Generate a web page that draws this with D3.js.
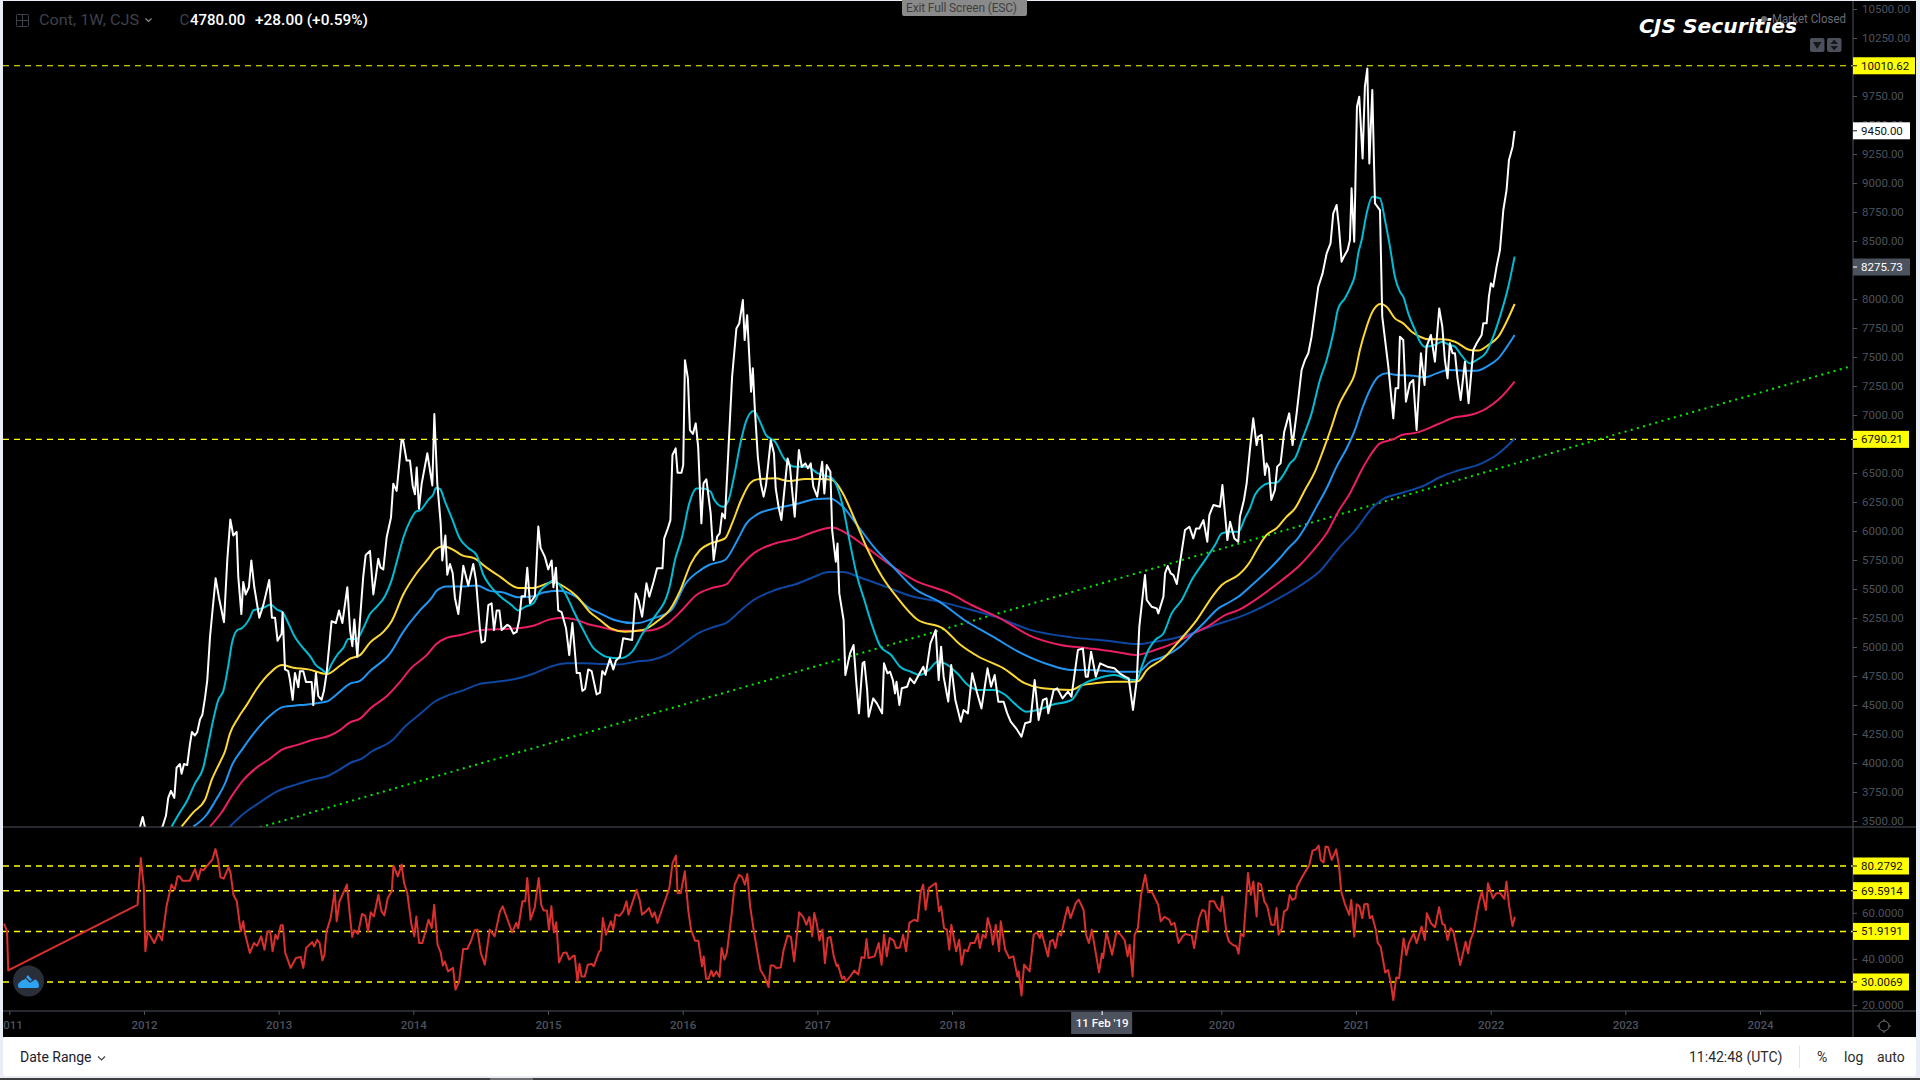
<!DOCTYPE html>
<html>
<head>
<meta charset="utf-8">
<script src="https://cdn.jsdelivr.net/npm/d3@7"></script>
<style>
  html, body { margin: 0; padding: 0; background: #e9edf5; overflow: hidden; }
  svg { display: block; }
</style>
</head>
<body>
<script>
// [year, value] pairs
const closeSeries = [[2011.970,3446],[2011.990,3535],[2012.007,3446],[2012.044,3360],[2012.138,3452],[2012.163,3545],[2012.180,3699],[2012.200,3760],[2012.225,3699],[2012.242,3960],[2012.267,3991],[2012.279,3908],[2012.297,3991],[2012.321,3982],[2012.341,4160],[2012.356,4268],[2012.378,4237],[2012.396,4268],[2012.416,4376],[2012.433,4413],[2012.453,4561],[2012.470,4715],[2012.490,5084],[2012.510,5330],[2012.532,5592],[2012.557,5423],[2012.594,5213],[2012.619,5761],[2012.641,6100],[2012.663,5961],[2012.688,5992],[2012.700,5607],[2012.723,5284],[2012.737,5561],[2012.755,5453],[2012.779,5515],[2012.797,5746],[2012.819,5515],[2012.856,5253],[2012.886,5361],[2012.930,5577],[2012.950,5253],[2012.973,5253],[2012.992,5053],[2013.022,5115],[2013.029,5300],[2013.047,4807],[2013.071,4792],[2013.084,4715],[2013.104,4545],[2013.121,4776],[2013.146,4653],[2013.158,4792],[2013.183,4792],[2013.203,4699],[2013.245,4699],[2013.257,4499],[2013.277,4776],[2013.294,4576],[2013.319,4545],[2013.336,4622],[2013.356,4776],[2013.393,5223],[2013.425,5207],[2013.448,5315],[2013.473,5207],[2013.510,5515],[2013.530,5146],[2013.547,5007],[2013.562,5238],[2013.584,4915],[2013.604,5238],[2013.628,5607],[2013.646,5792],[2013.678,5829],[2013.703,5453],[2013.740,5761],[2013.757,5684],[2013.777,5669],[2013.802,5946],[2013.834,6115],[2013.851,6408],[2013.876,6346],[2013.913,6787],[2013.925,6777],[2013.950,6608],[2013.975,6608],[2013.995,6393],[2014.012,6316],[2014.025,6547],[2014.042,6192],[2014.062,6408],[2014.104,6670],[2014.141,6393],[2014.156,7008],[2014.178,6408],[2014.203,6069],[2014.215,5746],[2014.238,5961],[2014.252,5623],[2014.272,5715],[2014.292,5638],[2014.309,5423],[2014.334,5284],[2014.371,5700],[2014.408,5530],[2014.445,5715],[2014.465,5577],[2014.495,5146],[2014.507,5038],[2014.532,5053],[2014.557,5361],[2014.581,5377],[2014.599,5146],[2014.619,5315],[2014.639,5315],[2014.656,5146],[2014.698,5192],[2014.718,5176],[2014.743,5115],[2014.767,5130],[2014.787,5238],[2014.804,5438],[2014.829,5438],[2014.846,5684],[2014.866,5377],[2014.903,5438],[2014.928,6039],[2014.945,5854],[2014.977,5777],[2015.002,5669],[2015.027,5746],[2015.040,5515],[2015.059,5684],[2015.076,5315],[2015.101,5300],[2015.134,5161],[2015.158,4930],[2015.181,5207],[2015.213,4776],[2015.237,4776],[2015.255,4622],[2015.275,4638],[2015.299,4807],[2015.324,4792],[2015.361,4591],[2015.386,4607],[2015.403,4792],[2015.423,4761],[2015.460,4899],[2015.485,4807],[2015.505,4884],[2015.534,4915],[2015.558,5075],[2015.625,5060],[2015.651,5462],[2015.672,5405],[2015.699,5261],[2015.731,5549],[2015.752,5434],[2015.784,5563],[2015.810,5678],[2015.850,5678],[2015.863,5936],[2015.890,6023],[2015.909,6094],[2015.924,6655],[2015.948,6712],[2015.962,6502],[2015.991,6502],[2016.004,6568],[2016.017,7473],[2016.039,7315],[2016.054,6870],[2016.076,6836],[2016.097,6928],[2016.115,6726],[2016.139,6066],[2016.155,6410],[2016.176,6445],[2016.208,6152],[2016.230,5750],[2016.256,5951],[2016.275,5980],[2016.293,6152],[2016.314,6109],[2016.341,6726],[2016.367,7330],[2016.399,7746],[2016.420,7789],[2016.447,7991],[2016.460,7646],[2016.479,7861],[2016.508,7201],[2016.521,7402],[2016.535,7071],[2016.558,6640],[2016.580,6410],[2016.601,6296],[2016.619,6396],[2016.654,6784],[2016.678,6669],[2016.691,6367],[2016.712,6209],[2016.733,6094],[2016.779,6626],[2016.797,6554],[2016.810,6382],[2016.832,6123],[2016.863,6698],[2016.885,6554],[2016.911,6583],[2016.930,6540],[2016.951,6583],[2016.970,6382],[2016.999,6296],[2017.036,6597],[2017.052,6324],[2017.070,6568],[2017.097,6511],[2017.110,6008],[2017.137,5735],[2017.150,5893],[2017.163,5462],[2017.195,5233],[2017.208,4758],[2017.243,4945],[2017.269,5017],[2017.290,4687],[2017.309,4428],[2017.336,4859],[2017.349,4873],[2017.370,4629],[2017.381,4399],[2017.415,4557],[2017.442,4514],[2017.481,4428],[2017.495,4859],[2017.521,4773],[2017.540,4787],[2017.561,4715],[2017.577,4600],[2017.588,4701],[2017.609,4500],[2017.627,4644],[2017.667,4658],[2017.688,4730],[2017.720,4687],[2017.760,4773],[2017.787,4830],[2017.805,4758],[2017.840,5031],[2017.879,5146],[2017.901,4715],[2017.919,5003],[2017.938,4744],[2017.972,4529],[2017.994,4845],[2018.025,4543],[2018.065,4356],[2018.086,4457],[2018.118,4428],[2018.150,4773],[2018.184,4615],[2018.219,4471],[2018.264,4816],[2018.290,4658],[2018.317,4758],[2018.344,4529],[2018.383,4529],[2018.410,4428],[2018.436,4356],[2018.476,4299],[2018.516,4227],[2018.543,4342],[2018.582,4356],[2018.614,4715],[2018.643,4371],[2018.675,4543],[2018.702,4557],[2018.715,4428],[2018.755,4629],[2018.781,4644],[2018.821,4557],[2018.861,4615],[2018.887,4572],[2018.935,4974],[2018.972,4988],[2018.993,4744],[2019.009,4744],[2019.033,4960],[2019.068,4744],[2019.100,4859],[2019.153,4830],[2019.206,4816],[2019.245,4773],[2019.285,4744],[2019.312,4730],[2019.344,4457],[2019.372,4715],[2019.391,5175],[2019.433,5620],[2019.446,5405],[2019.483,5347],[2019.520,5333],[2019.532,5290],[2019.570,5433],[2019.582,5635],[2019.602,5698],[2019.624,5635],[2019.644,5620],[2019.669,5543],[2019.730,6008],[2019.763,6037],[2019.792,5936],[2019.812,6022],[2019.837,6022],[2019.867,6094],[2019.896,5907],[2019.911,6137],[2019.941,6224],[2019.990,6209],[2020.008,6396],[2020.045,5922],[2020.065,6080],[2020.097,5936],[2020.126,5907],[2020.138,6124],[2020.168,6267],[2020.188,6411],[2020.212,6698],[2020.237,6971],[2020.262,6741],[2020.274,6813],[2020.299,6828],[2020.324,6483],[2020.336,6583],[2020.353,6540],[2020.371,6267],[2020.398,6354],[2020.415,6555],[2020.440,6583],[2020.467,6856],[2020.504,7014],[2020.529,6741],[2020.559,7014],[2020.596,7388],[2020.621,7474],[2020.646,7532],[2020.670,7675],[2020.690,7848],[2020.720,8106],[2020.752,8221],[2020.782,8393],[2020.811,8480],[2020.831,8738],[2020.856,8810],[2020.873,8623],[2020.893,8322],[2020.910,8365],[2020.938,8422],[2020.955,8508],[2020.967,8954],[2020.987,8494],[2021.007,9658],[2021.024,9744],[2021.049,9212],[2021.066,9830],[2021.084,9988],[2021.099,9169],[2021.121,9801],[2021.141,8824],[2021.178,8767],[2021.195,7848],[2021.240,7417],[2021.277,6971],[2021.294,7230],[2021.314,7230],[2021.326,7675],[2021.351,7647],[2021.371,7115],[2021.400,7273],[2021.425,7302],[2021.450,6871],[2021.482,7532],[2021.509,7259],[2021.524,7589],[2021.556,7690],[2021.586,7460],[2021.618,7919],[2021.641,7761],[2021.660,7474],[2021.680,7316],[2021.697,7618],[2021.717,7532],[2021.735,7532],[2021.754,7316],[2021.777,7129],[2021.809,7460],[2021.836,7101],[2021.871,7560],[2021.896,7618],[2021.933,7690],[2021.945,7790],[2021.970,7790],[2021.987,8020],[2022.002,8135],[2022.019,8106],[2022.044,8279],[2022.069,8422],[2022.094,8767],[2022.118,8939],[2022.136,9198],[2022.163,9313],[2022.178,9450]];

const cyanSeries = [[2012.205,3452],[2012.267,3575],[2012.317,3668],[2012.378,3822],[2012.440,3960],[2012.477,4160],[2012.515,4376],[2012.552,4545],[2012.589,4622],[2012.626,4838],[2012.651,5022],[2012.693,5146],[2012.725,5161],[2012.787,5253],[2012.812,5315],[2012.886,5337],[2012.940,5367],[2012.985,5324],[2013.029,5300],[2013.071,5207],[2013.114,5099],[2013.170,5007],[2013.237,4915],[2013.270,4853],[2013.319,4807],[2013.356,4776],[2013.393,4853],[2013.443,4945],[2013.480,4992],[2013.517,5069],[2013.579,5069],[2013.628,5161],[2013.678,5284],[2013.727,5346],[2013.789,5438],[2013.839,5577],[2013.876,5731],[2013.931,5961],[2013.975,6085],[2014.020,6168],[2014.049,6177],[2014.111,6269],[2014.148,6316],[2014.168,6371],[2014.198,6362],[2014.235,6254],[2014.284,6115],[2014.347,5931],[2014.408,5854],[2014.470,5792],[2014.520,5623],[2014.569,5530],[2014.644,5438],[2014.730,5361],[2014.780,5315],[2014.829,5346],[2014.891,5377],[2014.941,5484],[2015.002,5546],[2015.040,5577],[2015.076,5546],[2015.139,5438],[2015.188,5315],[2015.262,5146],[2015.336,4992],[2015.386,4945],[2015.435,4915],[2015.532,4902],[2015.625,4960],[2015.704,5118],[2015.784,5247],[2015.903,5520],[2015.943,5750],[2015.996,5951],[2016.049,6238],[2016.102,6367],[2016.155,6367],[2016.208,6339],[2016.235,6267],[2016.301,6209],[2016.341,6267],[2016.381,6468],[2016.434,6784],[2016.474,6956],[2016.527,7034],[2016.580,6928],[2016.619,6827],[2016.686,6770],[2016.752,6626],[2016.832,6554],[2016.924,6554],[2017.004,6497],[2017.110,6454],[2017.190,6209],[2017.243,5893],[2017.296,5606],[2017.349,5405],[2017.402,5204],[2017.469,5003],[2017.548,4931],[2017.614,4830],[2017.694,4787],[2017.760,4758],[2017.826,4801],[2017.893,4873],[2017.946,4859],[2018.039,4773],[2018.118,4672],[2018.198,4629],[2018.303,4629],[2018.397,4586],[2018.463,4514],[2018.556,4442],[2018.635,4457],[2018.741,4500],[2018.887,4543],[2018.967,4672],[2019.086,4730],[2019.206,4758],[2019.312,4721],[2019.372,4715],[2019.409,4830],[2019.458,4974],[2019.508,5060],[2019.570,5117],[2019.631,5290],[2019.706,5405],[2019.780,5577],[2019.879,5749],[2019.953,5879],[2020.003,5979],[2020.065,5994],[2020.126,5994],[2020.175,6110],[2020.212,6195],[2020.249,6310],[2020.299,6382],[2020.349,6411],[2020.410,6417],[2020.460,6483],[2020.510,6583],[2020.547,6627],[2020.608,6813],[2020.670,7014],[2020.732,7302],[2020.782,7474],[2020.831,7704],[2020.868,7919],[2020.918,8006],[2020.955,8092],[2020.992,8207],[2021.017,8393],[2021.042,8508],[2021.079,8738],[2021.121,8882],[2021.178,8868],[2021.215,8681],[2021.252,8451],[2021.289,8192],[2021.326,8063],[2021.351,8020],[2021.388,7876],[2021.438,7733],[2021.475,7632],[2021.512,7589],[2021.586,7603],[2021.636,7632],[2021.697,7603],[2021.735,7589],[2021.772,7532],[2021.846,7445],[2021.896,7474],[2021.970,7546],[2022.019,7675],[2022.069,7848],[2022.131,8106],[2022.178,8365]];

const yellowSeries = [[2012.279,3452],[2012.366,3575],[2012.453,3683],[2012.502,3852],[2012.564,4006],[2012.601,4099],[2012.638,4253],[2012.700,4391],[2012.762,4499],[2012.836,4638],[2012.935,4776],[2013.022,4844],[2013.109,4822],[2013.220,4807],[2013.356,4767],[2013.455,4838],[2013.530,4899],[2013.604,4930],[2013.678,5038],[2013.777,5130],[2013.839,5223],[2013.925,5453],[2014.025,5638],[2014.111,5761],[2014.161,5838],[2014.223,5869],[2014.297,5838],[2014.359,5792],[2014.458,5761],[2014.544,5684],[2014.643,5607],[2014.780,5509],[2014.891,5509],[2015.040,5561],[2015.126,5515],[2015.213,5438],[2015.312,5300],[2015.386,5233],[2015.466,5161],[2015.572,5132],[2015.704,5146],[2015.824,5233],[2015.903,5319],[2015.983,5491],[2016.062,5721],[2016.129,5836],[2016.208,5893],[2016.314,5936],[2016.367,6066],[2016.434,6267],[2016.500,6410],[2016.553,6445],[2016.686,6454],[2016.792,6431],[2016.911,6448],[2017.031,6448],[2017.110,6439],[2017.190,6324],[2017.269,6123],[2017.375,5836],[2017.481,5606],[2017.588,5434],[2017.747,5233],[2017.932,5161],[2018.065,5017],[2018.198,4916],[2018.383,4816],[2018.543,4687],[2018.675,4644],[2018.887,4629],[2018.967,4672],[2019.060,4687],[2019.206,4701],[2019.338,4701],[2019.384,4707],[2019.446,4801],[2019.570,4902],[2019.693,5060],[2019.817,5232],[2019.941,5448],[2020.003,5534],[2020.126,5620],[2020.176,5678],[2020.213,5735],[2020.262,5836],[2020.336,5966],[2020.410,6023],[2020.485,6124],[2020.547,6195],[2020.621,6354],[2020.695,6512],[2020.757,6698],[2020.819,6899],[2020.868,7072],[2020.931,7216],[2020.992,7359],[2021.029,7560],[2021.079,7761],[2021.116,7876],[2021.183,7957],[2021.227,7934],[2021.289,7833],[2021.351,7790],[2021.413,7718],[2021.475,7675],[2021.537,7652],[2021.636,7652],[2021.735,7632],[2021.846,7560],[2021.908,7555],[2021.982,7603],[2022.057,7675],[2022.118,7804],[2022.178,7957]];

const blueSeries = [[2012.366,3452],[2012.465,3554],[2012.527,3668],[2012.601,3822],[2012.651,3976],[2012.737,4130],[2012.824,4268],[2012.935,4407],[2013.034,4484],[2013.158,4499],[2013.356,4530],[2013.430,4591],[2013.530,4684],[2013.604,4708],[2013.678,4792],[2013.827,4945],[2013.925,5130],[2014.049,5315],[2014.136,5423],[2014.173,5484],[2014.247,5521],[2014.359,5521],[2014.470,5530],[2014.569,5484],[2014.668,5469],[2014.780,5429],[2014.891,5438],[2014.965,5469],[2015.076,5484],[2015.200,5438],[2015.312,5330],[2015.386,5290],[2015.492,5233],[2015.651,5204],[2015.784,5247],[2015.916,5319],[2016.023,5549],[2016.115,5649],[2016.195,5707],[2016.314,5750],[2016.407,5922],[2016.474,6066],[2016.553,6143],[2016.686,6195],[2016.845,6232],[2016.978,6273],[2017.097,6281],[2017.190,6209],[2017.296,6051],[2017.428,5850],[2017.561,5692],[2017.720,5505],[2017.906,5391],[2018.091,5233],[2018.304,5089],[2018.516,4945],[2018.728,4845],[2018.887,4802],[2019.046,4802],[2019.206,4787],[2019.384,4787],[2019.471,4873],[2019.570,4916],[2019.693,5002],[2019.780,5103],[2019.879,5218],[2019.978,5333],[2020.065,5390],[2020.126,5433],[2020.213,5520],[2020.435,5767],[2020.497,5851],[2020.559,5923],[2020.633,6052],[2020.707,6210],[2020.782,6368],[2020.856,6555],[2020.931,6713],[2020.992,6871],[2021.042,7043],[2021.103,7216],[2021.165,7330],[2021.227,7359],[2021.302,7345],[2021.425,7339],[2021.512,7325],[2021.598,7359],[2021.685,7388],[2021.797,7382],[2021.896,7382],[2021.970,7417],[2022.057,7488],[2022.118,7583],[2022.178,7690]];

const pinkSeries = [[2012.490,3452],[2012.577,3575],[2012.651,3714],[2012.737,3852],[2012.836,3960],[2012.935,4037],[2013.022,4114],[2013.133,4154],[2013.257,4200],[2013.381,4237],[2013.455,4284],[2013.530,4351],[2013.604,4382],[2013.678,4468],[2013.802,4576],[2013.901,4699],[2013.975,4807],[2014.099,4930],[2014.173,5029],[2014.247,5078],[2014.359,5106],[2014.470,5139],[2014.594,5152],[2014.780,5161],[2014.891,5183],[2015.015,5238],[2015.101,5253],[2015.200,5238],[2015.312,5192],[2015.386,5175],[2015.519,5141],[2015.731,5141],[2015.890,5204],[2015.996,5319],[2016.102,5448],[2016.208,5505],[2016.327,5543],[2016.407,5664],[2016.527,5807],[2016.686,5893],[2016.845,5936],[2016.978,5994],[2017.110,6031],[2017.216,5980],[2017.375,5850],[2017.508,5735],[2017.720,5577],[2017.985,5462],[2018.145,5362],[2018.357,5247],[2018.595,5089],[2018.807,5017],[2019.020,4988],[2019.206,4960],[2019.365,4931],[2019.508,4974],[2019.644,5031],[2019.768,5103],[2019.916,5189],[2020.027,5275],[2020.126,5318],[2020.213,5376],[2020.435,5563],[2020.584,5707],[2020.695,5851],[2020.782,5980],[2020.868,6167],[2020.955,6325],[2021.042,6526],[2021.116,6670],[2021.178,6756],[2021.277,6790],[2021.339,6828],[2021.450,6848],[2021.611,6922],[2021.735,6980],[2021.846,7000],[2021.970,7058],[2022.069,7144],[2022.178,7287]];

const navySeries = [[2012.638,3452],[2012.737,3560],[2012.861,3662],[2012.985,3754],[2013.134,3816],[2013.232,3852],[2013.369,3890],[2013.455,3945],[2013.530,4000],[2013.616,4037],[2013.690,4099],[2013.839,4191],[2013.938,4314],[2014.049,4422],[2014.161,4530],[2014.260,4585],[2014.359,4622],[2014.483,4678],[2014.606,4699],[2014.780,4730],[2014.891,4770],[2015.040,4838],[2015.139,4859],[2015.262,4859],[2015.411,4853],[2015.519,4850],[2015.651,4873],[2015.784,4893],[2015.903,4945],[2016.009,5031],[2016.115,5118],[2016.235,5175],[2016.327,5210],[2016.420,5304],[2016.527,5405],[2016.686,5491],[2016.845,5543],[2016.978,5606],[2017.084,5646],[2017.190,5646],[2017.322,5597],[2017.508,5520],[2017.694,5439],[2017.906,5391],[2018.145,5319],[2018.357,5247],[2018.569,5152],[2018.887,5083],[2019.153,5054],[2019.384,5025],[2019.508,5046],[2019.644,5074],[2019.780,5117],[2019.916,5175],[2020.027,5218],[2020.126,5255],[2020.213,5296],[2020.435,5425],[2020.584,5528],[2020.740,5664],[2020.870,5851],[2020.996,6008],[2021.120,6198],[2021.190,6267],[2021.345,6330],[2021.497,6388],[2021.631,6468],[2021.753,6520],[2021.920,6577],[2022.054,6664],[2022.178,6795]];

const trendSeries = [[2012.861,3445],[2024.680,7422]];

const rsiSeries = [[2010.961,55.3],[2010.983,51.9],[2010.992,35.0],[2011.952,63.4],[2011.976,83.7],[2011.998,71.5],[2012.010,43.3],[2012.028,51.9],[2012.076,46.9],[2012.107,51.2],[2012.134,48.1],[2012.167,62.8],[2012.204,72.2],[2012.228,70.0],[2012.249,75.8],[2012.264,75.8],[2012.286,73.9],[2012.340,73.9],[2012.379,79.0],[2012.401,74.4],[2012.422,79.0],[2012.440,78.4],[2012.476,80.9],[2012.507,83.0],[2012.531,87.6],[2012.552,82.3],[2012.567,75.5],[2012.592,74.8],[2012.628,79.8],[2012.643,77.2],[2012.664,67.8],[2012.689,65.0],[2012.710,55.6],[2012.719,51.9],[2012.737,56.3],[2012.749,51.2],[2012.786,42.6],[2012.816,46.9],[2012.840,45.7],[2012.870,49.8],[2012.895,44.0],[2012.916,51.9],[2012.937,51.9],[2012.955,43.3],[2012.976,50.5],[2012.992,48.6],[2013.016,54.6],[2013.031,54.6],[2013.049,42.6],[2013.089,36.1],[2013.128,40.4],[2013.164,40.8],[2013.183,36.1],[2013.204,44.7],[2013.249,47.3],[2013.264,45.4],[2013.286,48.3],[2013.304,46.9],[2013.325,39.4],[2013.340,41.8],[2013.355,51.9],[2013.386,57.7],[2013.416,69.3],[2013.431,56.3],[2013.452,65.0],[2013.507,72.2],[2013.531,57.7],[2013.546,49.5],[2013.561,52.4],[2013.589,50.9],[2013.619,59.5],[2013.643,58.7],[2013.664,51.9],[2013.683,60.2],[2013.707,58.4],[2013.740,67.8],[2013.764,60.6],[2013.785,58.9],[2013.810,66.4],[2013.840,69.3],[2013.852,80.4],[2013.885,75.8],[2013.913,80.9],[2013.931,72.9],[2013.955,68.6],[2013.986,54.8],[2014.007,49.8],[2014.022,58.4],[2014.043,46.9],[2014.067,46.9],[2014.113,57.0],[2014.137,53.4],[2014.155,63.5],[2014.180,46.2],[2014.204,42.6],[2014.219,37.1],[2014.234,38.9],[2014.258,34.6],[2014.295,36.1],[2014.313,26.7],[2014.340,30.3],[2014.370,44.3],[2014.401,44.3],[2014.431,48.3],[2014.455,52.4],[2014.476,52.7],[2014.501,42.6],[2014.531,37.5],[2014.567,52.7],[2014.604,49.8],[2014.643,60.6],[2014.664,62.8],[2014.734,51.5],[2014.764,55.6],[2014.779,53.4],[2014.810,65.0],[2014.831,65.0],[2014.846,75.1],[2014.870,57.0],[2014.901,62.1],[2014.931,75.1],[2014.949,63.5],[2014.967,61.0],[2014.992,61.0],[2015.007,52.7],[2015.025,62.8],[2015.043,51.5],[2015.061,55.9],[2015.082,38.5],[2015.113,42.6],[2015.137,42.8],[2015.158,39.7],[2015.189,41.4],[2015.198,41.4],[2015.219,30.3],[2015.234,37.9],[2015.249,32.4],[2015.273,32.4],[2015.295,37.5],[2015.325,37.8],[2015.340,36.8],[2015.380,43.3],[2015.392,43.7],[2015.407,57.7],[2015.431,50.5],[2015.467,56.3],[2015.485,52.7],[2015.501,59.2],[2015.531,58.7],[2015.558,60.6],[2015.583,65.0],[2015.598,59.2],[2015.658,70.0],[2015.683,65.0],[2015.698,59.2],[2015.728,60.6],[2015.750,62.1],[2015.774,58.2],[2015.792,60.2],[2015.813,55.6],[2015.850,62.1],[2015.901,70.7],[2015.925,81.6],[2015.950,84.8],[2015.962,68.6],[2015.986,68.6],[2016.016,78.0],[2016.041,61.3],[2016.062,52.7],[2016.092,47.9],[2016.116,47.9],[2016.144,36.8],[2016.156,41.1],[2016.174,31.4],[2016.192,31.4],[2016.213,34.9],[2016.228,32.4],[2016.250,34.6],[2016.274,32.2],[2016.289,44.7],[2016.310,39.7],[2016.328,42.6],[2016.365,59.9],[2016.386,72.2],[2016.419,76.5],[2016.441,75.5],[2016.462,72.2],[2016.480,76.8],[2016.501,62.8],[2016.531,51.2],[2016.577,35.3],[2016.607,32.4],[2016.638,27.8],[2016.653,37.2],[2016.677,37.1],[2016.692,36.1],[2016.728,36.3],[2016.750,44.0],[2016.780,50.2],[2016.804,49.5],[2016.828,38.9],[2016.865,60.2],[2016.895,58.2],[2016.919,54.8],[2016.941,58.2],[2016.962,49.8],[2016.977,59.9],[2016.995,55.6],[2017.016,48.0],[2017.038,52.7],[2017.056,38.2],[2017.077,49.1],[2017.098,49.5],[2017.122,41.1],[2017.144,36.8],[2017.153,37.5],[2017.183,31.4],[2017.198,32.4],[2017.213,30.3],[2017.244,32.4],[2017.274,35.0],[2017.304,33.2],[2017.328,40.8],[2017.350,40.4],[2017.365,48.6],[2017.380,40.4],[2017.425,41.1],[2017.456,46.9],[2017.477,37.5],[2017.495,50.5],[2017.516,41.1],[2017.537,49.1],[2017.568,47.9],[2017.586,44.7],[2017.613,45.0],[2017.637,50.5],[2017.659,43.3],[2017.683,55.6],[2017.719,57.0],[2017.744,56.3],[2017.768,69.3],[2017.786,72.2],[2017.804,61.3],[2017.828,70.7],[2017.880,72.9],[2017.904,60.6],[2017.919,62.8],[2017.941,53.4],[2017.962,52.7],[2017.980,44.0],[2017.995,54.8],[2018.031,43.3],[2018.053,48.3],[2018.071,37.5],[2018.092,44.0],[2018.116,43.3],[2018.137,46.9],[2018.168,46.9],[2018.192,50.9],[2018.207,44.7],[2018.228,50.5],[2018.250,49.1],[2018.265,57.7],[2018.289,52.7],[2018.304,46.2],[2018.325,54.8],[2018.350,43.3],[2018.362,56.3],[2018.395,44.0],[2018.425,40.4],[2018.456,41.1],[2018.486,32.4],[2018.495,34.6],[2018.516,24.1],[2018.535,37.5],[2018.577,34.6],[2018.607,50.5],[2018.631,51.5],[2018.653,49.1],[2018.665,51.5],[2018.713,41.1],[2018.729,47.6],[2018.750,48.3],[2018.768,44.7],[2018.789,51.2],[2018.810,50.1],[2018.835,57.0],[2018.859,62.5],[2018.880,57.7],[2018.919,64.2],[2018.941,65.7],[2018.977,61.3],[2018.995,50.5],[2019.016,46.9],[2019.038,52.7],[2019.092,34.2],[2019.113,42.3],[2019.122,40.4],[2019.147,51.5],[2019.189,41.8],[2019.222,51.9],[2019.253,50.5],[2019.283,48.0],[2019.304,41.1],[2019.319,46.2],[2019.341,32.4],[2019.356,50.5],[2019.380,53.4],[2019.404,67.8],[2019.435,76.5],[2019.456,68.9],[2019.486,68.9],[2019.531,63.5],[2019.550,56.3],[2019.577,58.2],[2019.613,57.0],[2019.628,54.8],[2019.653,55.6],[2019.683,46.9],[2019.713,49.8],[2019.734,50.8],[2019.780,50.1],[2019.798,44.7],[2019.834,57.7],[2019.859,61.3],[2019.880,60.6],[2019.901,51.9],[2019.913,65.0],[2019.946,65.0],[2019.971,62.1],[2019.995,60.6],[2020.007,67.1],[2020.038,51.2],[2020.056,47.6],[2020.083,46.2],[2020.113,45.4],[2020.128,42.3],[2020.144,50.9],[2020.165,49.8],[2020.198,77.2],[2020.219,67.8],[2020.238,73.6],[2020.262,58.4],[2020.274,72.9],[2020.295,72.2],[2020.319,65.0],[2020.341,62.8],[2020.371,54.8],[2020.395,54.8],[2020.410,62.1],[2020.425,50.5],[2020.435,51.8],[2020.450,53.3],[2020.465,60.5],[2020.490,61.5],[2020.508,67.7],[2020.526,65.6],[2020.550,66.3],[2020.562,71.3],[2020.602,75.7],[2020.632,78.6],[2020.653,80.7],[2020.677,86.9],[2020.702,87.5],[2020.723,89.1],[2020.738,82.9],[2020.759,81.8],[2020.774,88.7],[2020.793,88.4],[2020.820,82.9],[2020.853,87.5],[2020.874,80.0],[2020.890,69.2],[2020.920,63.4],[2020.950,59.1],[2020.965,65.6],[2020.987,49.7],[2021.005,63.7],[2021.026,62.7],[2021.047,57.6],[2021.062,63.7],[2021.087,63.8],[2021.102,57.6],[2021.120,58.6],[2021.147,52.6],[2021.162,46.8],[2021.183,45.3],[2021.217,34.1],[2021.238,35.2],[2021.259,29.4],[2021.277,22.2],[2021.299,32.0],[2021.320,31.6],[2021.353,48.9],[2021.374,41.7],[2021.393,46.8],[2021.429,51.1],[2021.450,46.8],[2021.487,54.0],[2021.511,48.2],[2021.526,59.8],[2021.556,55.5],[2021.587,53.7],[2021.617,62.4],[2021.641,55.2],[2021.659,54.7],[2021.680,48.2],[2021.702,53.3],[2021.723,51.8],[2021.774,37.4],[2021.814,47.5],[2021.832,42.4],[2021.850,48.2],[2021.874,51.8],[2021.911,64.1],[2021.935,69.2],[2021.965,61.2],[2021.980,72.8],[2022.017,66.3],[2022.041,68.5],[2022.071,68.5],[2022.102,66.0],[2022.117,73.5],[2022.138,62.7],[2022.162,54.3],[2022.180,58.3]];

const priceLevels = [10010.62, 6790.21];
const rsiLevels = [80.2792, 69.5914, 51.9191, 30.0069];
// 10000, 8250, 80 and 2019 sit behind a flag in the picture, so they are left out
const priceTicks = d3.range(3500, 10501, 250).filter(d => d !== 10000 && d !== 8250);
const rsiTicks = [20, 40, 60];
const yearTicks = d3.range(2011, 2025).filter(d => d !== 2019);
const lastClose = 9450;
const lastCyan = 8275.73;
const crosshairYear = 2019.115;

function main(){
    const svg = d3.select("body").append("svg")
        .attr("width", 1920)
        .attr("height", 1080)
        .style("font-family", "Roboto, sans-serif");

    const grey = "#4c525e";
    const paneLeft = 3, paneRight = 1853, paneTop = 1, split = 827, paneBottom = 1011, axisBottom = 1037, right = 1916;

    // chart background and the white footer
    svg.append("rect").attr("x", paneLeft).attr("y", paneTop).attr("width", right - paneLeft).attr("height", axisBottom - paneTop).attr("fill", "#000");
    svg.append("rect").attr("x", paneLeft).attr("y", axisBottom).attr("width", right - paneLeft).attr("height", 39).attr("rx", 3).attr("fill", "#fff");
    svg.append("rect").attr("x", 0).attr("y", 1078).attr("width", 1920).attr("height", 2).attr("fill", "#3e3e3e");
    svg.append("rect").attr("x", 490).attr("y", 1078).attr("width", 43).attr("height", 2).attr("fill", "#6e6e6e");

    const x = d3.scaleLinear().domain([2012, 2024]).range([144, 1760]);
    const y = d3.scaleLinear().domain([3500, 10500]).range([821, 9]);
    const yRsi = d3.scaleLinear().domain([30, 80.2792]).range([982, 866]);

    const defs = svg.append("defs");
    defs.append("clipPath").attr("id", "clipMain").append("rect")
        .attr("x", paneLeft).attr("y", paneTop).attr("width", paneRight - paneLeft).attr("height", split - paneTop);
    defs.append("clipPath").attr("id", "clipRsi").append("rect")
        .attr("x", paneLeft).attr("y", split).attr("width", paneRight - paneLeft).attr("height", paneBottom - split);
    defs.append("clipPath").attr("id", "clipTime").append("rect")
        .attr("x", paneLeft).attr("y", paneBottom).attr("width", paneRight - paneLeft).attr("height", axisBottom - paneBottom);

    const mainPane = svg.append("g").attr("clip-path", "url(#clipMain)");
    const rsiPane = svg.append("g").attr("clip-path", "url(#clipRsi)");

    const priceLine = d3.line().x(d => x(d[0])).y(d => y(d[1]));
    const maLine = d3.line().x(d => x(d[0])).y(d => y(d[1])).curve(d3.curveMonotoneX);
    const rsiLine = d3.line().x(d => x(d[0])).y(d => yRsi(d[1]));

    mainPane.selectAll(".level").data(priceLevels).join("line")
        .attr("x1", paneLeft).attr("x2", paneRight)
        .attr("y1", d => y(d)).attr("y2", d => y(d))
        .attr("stroke", "#ffff00").attr("stroke-width", 1.2).attr("stroke-dasharray", "6 5");

    mainPane.append("path").datum(trendSeries)
        .attr("d", priceLine).attr("fill", "none")
        .attr("stroke", "#00f000").attr("stroke-width", 2).attr("stroke-dasharray", "2 4.4");

    const maLines = [
        [navySeries, "#0d47a1"],
        [pinkSeries, "#e91e63"],
        [blueSeries, "#2196f3"],
        [yellowSeries, "#fdd835"],
        [cyanSeries, "#00bcd4"]
    ];
    maLines.forEach(m => {
        mainPane.append("path").datum(m[0])
            .attr("d", maLine).attr("fill", "none")
            .attr("stroke", m[1]).attr("stroke-width", 2).attr("stroke-linejoin", "round");
    });
    mainPane.append("path").datum(closeSeries)
        .attr("d", priceLine).attr("fill", "none")
        .attr("stroke", "#fff").attr("stroke-width", 2).attr("stroke-linejoin", "round");

    // lower pane
    rsiPane.selectAll(".level").data(rsiLevels).join("line")
        .attr("x1", paneLeft).attr("x2", paneRight)
        .attr("y1", d => yRsi(d)).attr("y2", d => yRsi(d))
        .attr("stroke", "#ffff00").attr("stroke-width", 1.5).attr("stroke-dasharray", "6 5");
    rsiPane.append("path").datum(rsiSeries)
        .attr("d", rsiLine).attr("fill", "none")
        .attr("stroke", "#d8302f").attr("stroke-width", 2).attr("stroke-linejoin", "round");

    // axes
    const styleAxis = g => {
        g.select(".domain").remove();
        g.selectAll("line").attr("stroke", grey);
        g.selectAll("text").attr("fill", grey).style("font-size", "11.5px").style("font-family", "Roboto, sans-serif");
    };
    svg.append("g").attr("transform", "translate(" + paneRight + ",0)")
        .call(d3.axisRight(y).tickValues(priceTicks).tickSize(4).tickPadding(5).tickFormat(d3.format(".2f")))
        .call(styleAxis);
    svg.append("g").attr("transform", "translate(" + paneRight + ",0)")
        .call(d3.axisRight(yRsi).tickValues(rsiTicks).tickSize(4).tickPadding(5).tickFormat(d3.format(".4f")))
        .call(styleAxis);
    const timeAxis = svg.append("g").attr("clip-path", "url(#clipTime)").append("g")
        .attr("transform", "translate(0," + paneBottom + ")")
        .call(d3.axisBottom(x).tickValues(yearTicks).tickSize(4).tickPadding(6).tickFormat(d3.format("d")))
        .call(styleAxis);
    timeAxis.selectAll("text").style("font-weight", 500);

    svg.append("line").attr("x1", paneLeft).attr("x2", right).attr("y1", split).attr("y2", split).attr("stroke", grey).attr("stroke-width", 1);
    svg.append("line").attr("x1", paneLeft).attr("x2", right).attr("y1", paneBottom).attr("y2", paneBottom).attr("stroke", grey).attr("stroke-width", 1);
    svg.append("line").attr("x1", paneRight).attr("x2", paneRight).attr("y1", paneTop).attr("y2", axisBottom).attr("stroke", grey).attr("stroke-width", 1);

    // value flags on the price scale
    const flag = (cy, label, bg, fg, w) => {
        const g = svg.append("g");
        g.append("rect").attr("x", paneRight).attr("y", cy - 8.5).attr("width", w).attr("height", 17).attr("fill", bg);
        g.append("line").attr("x1", paneRight).attr("x2", paneRight + 4).attr("y1", cy).attr("y2", cy).attr("stroke", fg);
        g.append("text").attr("x", paneRight + 8).attr("y", cy + 4).attr("fill", fg).style("font-size", "11.5px").text(label);
    };
    priceLevels.forEach(d => flag(y(d), d3.format(".2f")(d), "#ffff00", "#111", d > 10000 ? 62 : 56));
    rsiLevels.forEach(d => flag(yRsi(d), d3.format(".4f")(d), "#ffff00", "#111", 56));
    flag(y(lastClose), d3.format(".2f")(lastClose), "#fff", "#111", 57);
    flag(y(lastCyan), d3.format(".2f")(lastCyan), grey, "#fff", 57);

    // crosshair date flag
    const cx = x(crosshairYear);
    svg.append("rect").attr("x", cx - 31).attr("y", paneBottom + 1).attr("width", 61).attr("height", 22).attr("fill", grey);
    svg.append("line").attr("x1", cx).attr("x2", cx).attr("y1", paneBottom).attr("y2", paneBottom + 4).attr("stroke", "#fff");
    svg.append("text").attr("x", cx).attr("y", paneBottom + 16).attr("text-anchor", "middle").attr("fill", "#fff")
        .style("font-size", "11.5px").style("font-weight", 500).text("11 Feb '19");

    // legend line at top left
    const legendGrey = "#3d414c";
    svg.append("rect").attr("x", 16.5).attr("y", 14.5).attr("width", 12).attr("height", 12).attr("rx", 1).attr("fill", "none").attr("stroke", legendGrey);
    svg.append("path").attr("d", "M22.5 14.5V26.5M16.5 20.5H28.5").attr("stroke", legendGrey);
    svg.append("text").attr("x", 39).attr("y", 25).attr("fill", legendGrey).style("font-size", "15px")
        .attr("textLength", 100).attr("lengthAdjust", "spacingAndGlyphs").text("Cont, 1W, CJS");
    svg.append("path").attr("d", "M145.5 18.5L148.5 21.5L151.5 18.5").attr("fill", "none").attr("stroke", "#8a8e98").attr("stroke-width", 1.2);
    svg.append("text").attr("x", 179.5).attr("y", 25).attr("fill", legendGrey).style("font-size", "15px").text("C");
    svg.append("text").attr("x", 190).attr("y", 25).attr("fill", "#fff").style("font-size", "15px").style("font-weight", 500).text("4780.00");
    svg.append("text").attr("x", 255).attr("y", 25).attr("fill", "#fff").style("font-size", "15px").style("font-weight", 500)
        .attr("textLength", 113).attr("lengthAdjust", "spacingAndGlyphs").text("+28.00 (+0.59%)");

    // browser banner
    svg.append("path").attr("d", "M902 0H1027V14a2 2 0 0 1-2 2H904a2 2 0 0 1-2-2Z").attr("fill", "#8a8a8a");
    svg.append("text").attr("x", 906).attr("y", 12).attr("fill", "#3f3f3f").style("font-size", "12px")
        .attr("textLength", 111).attr("lengthAdjust", "spacing").text("Exit Full Screen (ESC)");

    // top right
    svg.append("circle").attr("cx", 1764).attr("cy", 19).attr("r", 3).attr("fill", "#6a6a6a");
    svg.append("text").attr("x", 1772).attr("y", 23).attr("fill", "#6a6d75").style("font-size", "12.5px")
        .attr("textLength", 74).attr("lengthAdjust", "spacingAndGlyphs").text("Market Closed");
    svg.append("text").attr("x", 1639).attr("y", 33).attr("fill", "#fff")
        .style("font-family", "'DejaVu Sans'").style("font-weight", "bold").style("font-style", "italic").style("font-size", "19px")
        .attr("textLength", 158).attr("lengthAdjust", "spacingAndGlyphs").text("CJS Securities");
    svg.append("rect").attr("x", 1810).attr("y", 38).attr("width", 14.5).attr("height", 14).attr("rx", 2).attr("fill", "#4c4f5c");
    svg.append("rect").attr("x", 1827).attr("y", 38).attr("width", 14.5).attr("height", 14).attr("rx", 2).attr("fill", "#4c4f5c");
    svg.append("path").attr("d", "M1813 42H1821.5L1817.2 49Z").attr("fill", "#16171b");
    svg.append("path").attr("d", "M1834.2 39.5L1838 44H1830.4ZM1834.2 50.5L1838 46H1830.4Z").attr("fill", "#16171b");

    // logo badge
    svg.append("circle").attr("cx", 28.5).attr("cy", 981).attr("r", 15.5).attr("fill", "#2a2e39");
    svg.append("path").attr("d", "M18 986C18 981 21 979 24 980L28 975L32 980L35 979C38 981 39 983 39 986Q39 988 37 988H20Q18 988 18 986Z").attr("fill", "#2ea3f2");
    svg.append("path").attr("d", "M18 983L25 977L30 982L35 979").attr("fill", "none").attr("stroke", "#2a2e39").attr("stroke-width", 1.2);

    // gear
    const gear = svg.append("g").attr("transform", "translate(1884,1026)").attr("stroke", "#70747e").attr("fill", "none");
    gear.append("circle").attr("r", 5);
    gear.append("path").attr("d", "M0 -7V-5M0 5V7M-7 0H-5M5 0H7");

    // footer
    const footer = "#2b2b2b";
    svg.append("text").attr("x", 20).attr("y", 1062).attr("fill", "#1c2030").style("font-size", "14px").text("Date Range");
    svg.append("path").attr("d", "M98 1056.5L101.5 1060L105 1056.5").attr("fill", "none").attr("stroke", "#444").attr("stroke-width", 1.2);
    svg.append("text").attr("x", 1689).attr("y", 1062).attr("fill", footer).style("font-size", "14px").text("11:42:48 (UTC)");
    svg.append("line").attr("x1", 1799.5).attr("x2", 1799.5).attr("y1", 1046).attr("y2", 1068).attr("stroke", "#e4e4e4");
    svg.append("text").attr("x", 1817).attr("y", 1062).attr("fill", footer).style("font-size", "14px").text("%");
    svg.append("text").attr("x", 1844).attr("y", 1062).attr("fill", footer).style("font-size", "14px").text("log");
    svg.append("text").attr("x", 1877).attr("y", 1062).attr("fill", footer).style("font-size", "14px").text("auto");
}
main();
</script>
</body>
</html>
